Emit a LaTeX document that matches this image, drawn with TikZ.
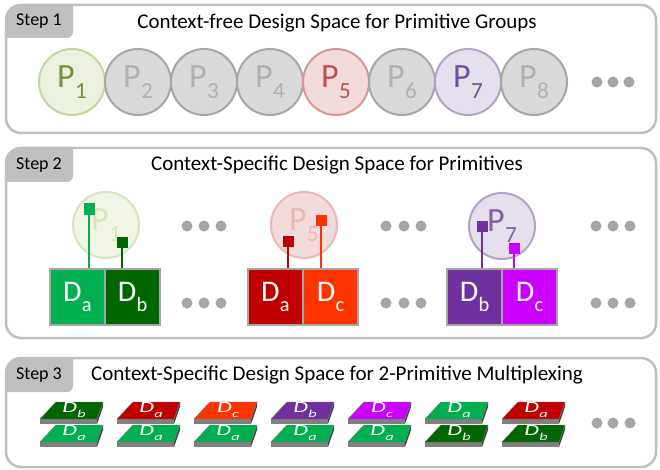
\documentclass[tikz,border=0pt]{standalone}
\usepackage{fontspec}
\setmainfont{Carlito}
\usepackage{graphicx}
\usetikzlibrary{positioning}

\definecolor{frame}{HTML}{BFBFBF}
\definecolor{tabgray}{HTML}{BFBFBF}
\definecolor{dotgray}{HTML}{A6A6A6}
\definecolor{boxline}{HTML}{A6A6A6}
\definecolor{cda}{HTML}{00B050}
\definecolor{cdb}{HTML}{006600}
\definecolor{cra}{HTML}{C00000}
\definecolor{crc}{HTML}{FF3300}
\definecolor{cpb}{HTML}{7030A0}
\definecolor{cpc}{HTML}{CC00FF}

% subscript label, e.g. P_1, D_a
\newcommand{\idx}[2]{#1\kern0.3pt\raisebox{-0.32em}{\scalebox{0.68}{#2}}}

% one 3-D tile: x, y (front left corner), colour, label
\newcommand{\dtile}[4]{%
  \fill[black!75] (#1+57,#2) -- (#1+63,#2-17) -- (#1+63,#2-12) -- (#1+57,#2+5) -- cycle;
  \fill[black!50] (#1,#2) rectangle (#1+57,#2+5);
  \filldraw[#3, draw=black!55, line width=0.4pt] (#1,#2) -- (#1+57,#2) -- (#1+63,#2-17) -- (#1+16,#2-17) -- cycle;
  \node[tilelbl] at (#1+34,#2-9) {\scalebox{1}[0.65]{#4}};
}

\begin{document}
\begin{tikzpicture}[x=1pt,y=-1pt,on grid,
    panel/.style={draw=frame, line width=2.5pt, rounded corners=15pt},
    steptab/.style={font=\fontsize{18}{18}\selectfont},
    title/.style={font=\fontsize{21}{21}\selectfont},
    prim/.style={circle, minimum size=66pt, line width=2pt, font=\fontsize{34}{34}\selectfont},
    pg/.style={prim, fill={rgb,255:red,217;green,217;blue,217}, draw={rgb,255:red,166;green,166;blue,166}, text={rgb,255:red,176;green,176;blue,176}},
    pa/.style={prim, fill={rgb,255:red,235;green,241;blue,222}, draw={rgb,255:red,195;green,214;blue,155}, text={rgb,255:red,119;green,147;blue,60}},
    pb/.style={prim, fill={rgb,255:red,242;green,220;blue,219}, draw={rgb,255:red,217;green,150;blue,148}, text={rgb,255:red,192;green,80;blue,77}},
    pc/.style={prim, fill={rgb,255:red,229;green,224;blue,236}, draw={rgb,255:red,179;green,162;blue,199}, text={rgb,255:red,112;green,80;blue,160}},
    fa/.style={prim, fill={rgb,255:red,240;green,245;blue,230}, draw={rgb,255:red,215;green,228;blue,189}, text={rgb,255:red,215;green,228;blue,189}},
    fb/.style={prim, fill={rgb,255:red,242;green,220;blue,219}, draw={rgb,255:red,230;green,185;blue,184}, text={rgb,255:red,230;green,185;blue,184}},
    fc/.style={prim, fill={rgb,255:red,229;green,224;blue,236}, draw={rgb,255:red,179;green,162;blue,199}, text={rgb,255:red,128;green,100;blue,162}},
    dbox/.style={rectangle, minimum width=55pt, minimum height=56pt, draw=boxline, line width=2.5pt, text=white, font=\fontsize{30}{30}\selectfont},
    pin/.style={rectangle, minimum size=11pt, inner sep=0pt},
    wire/.style={line width=2pt},
    dot/.style={circle, fill=dotgray, minimum size=11pt, inner sep=0pt},
    tilelbl/.style={text=white, inner sep=0pt, font=\fontsize{24}{24}\selectfont\itshape}]

\useasboundingbox (0,0) rectangle (660,470);

% step 1
\begin{scope}
  \clip[rounded corners=15pt] (6,5) rectangle (656,133);
  \fill[tabgray, rounded corners=6pt] (0,0) rectangle (73,38);
\end{scope}
\draw[panel] (6,5) rectangle (656,133);
\node[steptab] (s1) at (39,21) {Step 1};
\node[title] (t1) at (337,23) {Context-free Design Space for Primitive Groups};

\node[pa] (p1) at (72,82) {\idx{P}{1}};
\node[pg, node distance=66pt] (p2) [right=of p1] {\idx{P}{2}};
\node[pg, node distance=66pt] (p3) [right=of p2] {\idx{P}{3}};
\node[pg, node distance=66pt] (p4) [right=of p3] {\idx{P}{4}};
\node[pb, node distance=66pt] (p5) [right=of p4] {\idx{P}{5}};
\node[pg, node distance=66pt] (p6) [right=of p5] {\idx{P}{6}};
\node[pc, node distance=66pt] (p7) [right=of p6] {\idx{P}{7}};
\node[pg, node distance=66pt] (p8) [right=of p7] {\idx{P}{8}};
\foreach \x in {597,613,629} \node[dot] (d1-\x) at (\x,82) {};

% step 2
\begin{scope}
  \clip[rounded corners=15pt] (6,148) rectangle (656,338);
  \fill[tabgray, rounded corners=6pt] (0,140) rectangle (73,182);
\end{scope}
\draw[panel] (6,148) rectangle (656,338);
\node[steptab] (s2) at (39,165) {Step 2};
\node[title] (t2) at (337,165) {Context-Specific Design Space for Primitives};

\node[fa] (q1) at (106,225) {\idx{P}{1}};
\node[fb] (q5) at (304,225) {\idx{P}{5}};
\node[fc] (q7) at (502,226) {\idx{P}{7}};

\node[dbox, fill=cda] (a1) at (77.5,297) {\idx{D}{a}};
\node[dbox, fill=cdb, node distance=55pt] (b1) [right=of a1] {\idx{D}{b}};
\node[dbox, fill=cra] (a5) at (275.5,297) {\idx{D}{a}};
\node[dbox, fill=crc, node distance=55pt] (c5) [right=of a5] {\idx{D}{c}};
\node[dbox, fill=cpb] (b7) at (474.5,297) {\idx{D}{b}};
\node[dbox, fill=cpc, node distance=55pt] (c7) [right=of b7] {\idx{D}{c}};

\node[pin, fill=cda] (ka1) at (89,209) {};
\node[pin, fill=cdb] (kb1) at (122,242) {};
\node[pin, fill=cra] (ka5) at (288,241) {};
\node[pin, fill=crc] (kc5) at (321,220) {};
\node[pin, fill=cpb] (kb7) at (482,226) {};
\node[pin, fill=cpc] (kc7) at (514,248) {};

\draw[wire, cda] (ka1) -- (ka1 |- a1.north);
\draw[wire, cdb] (kb1) -- (kb1 |- b1.north);
\draw[wire, cra] (ka5) -- (ka5 |- a5.north);
\draw[wire, crc] (kc5) -- (kc5 |- c5.north);
\draw[wire, cpb] (kb7) -- (kb7 |- b7.north);
\draw[wire, cpc] (kc7) -- (kc7 |- c7.north);

\foreach \x in {187,204,221,386,404,421,596,613,630} {
  \node[dot] (du-\x) at (\x,226) {};
  \node[dot] (dl-\x) at (\x,303) {};
}

% step 3
\begin{scope}
  \clip[rounded corners=15pt] (6,358) rectangle (656,467);
  \fill[tabgray, rounded corners=6pt] (0,350) rectangle (73,392);
\end{scope}
\draw[panel] (6,358) rectangle (656,467);
\node[steptab] (s3) at (39,375) {Step 3};
\node[title] (t3) at (337,375) {Context-Specific Design Space for 2-Primitive Multiplexing};

\dtile{40}{442}{cda}{\idx{D}{a}}   \dtile{40}{419}{cdb}{\idx{D}{b}}
\dtile{117}{442}{cda}{\idx{D}{a}}  \dtile{117}{419}{cra}{\idx{D}{a}}
\dtile{194}{442}{cda}{\idx{D}{a}}  \dtile{194}{419}{crc}{\idx{D}{c}}
\dtile{271}{442}{cda}{\idx{D}{a}}  \dtile{271}{419}{cpb}{\idx{D}{b}}
\dtile{348}{442}{cda}{\idx{D}{a}}  \dtile{348}{419}{cpc}{\idx{D}{c}}
\dtile{425}{442}{cdb}{\idx{D}{b}}  \dtile{425}{419}{cda}{\idx{D}{a}}
\dtile{502}{442}{cdb}{\idx{D}{b}}  \dtile{502}{419}{cra}{\idx{D}{a}}
\foreach \x in {597,613,630} \node[dot] (d3-\x) at (\x,423) {};

\end{tikzpicture}
\end{document}
